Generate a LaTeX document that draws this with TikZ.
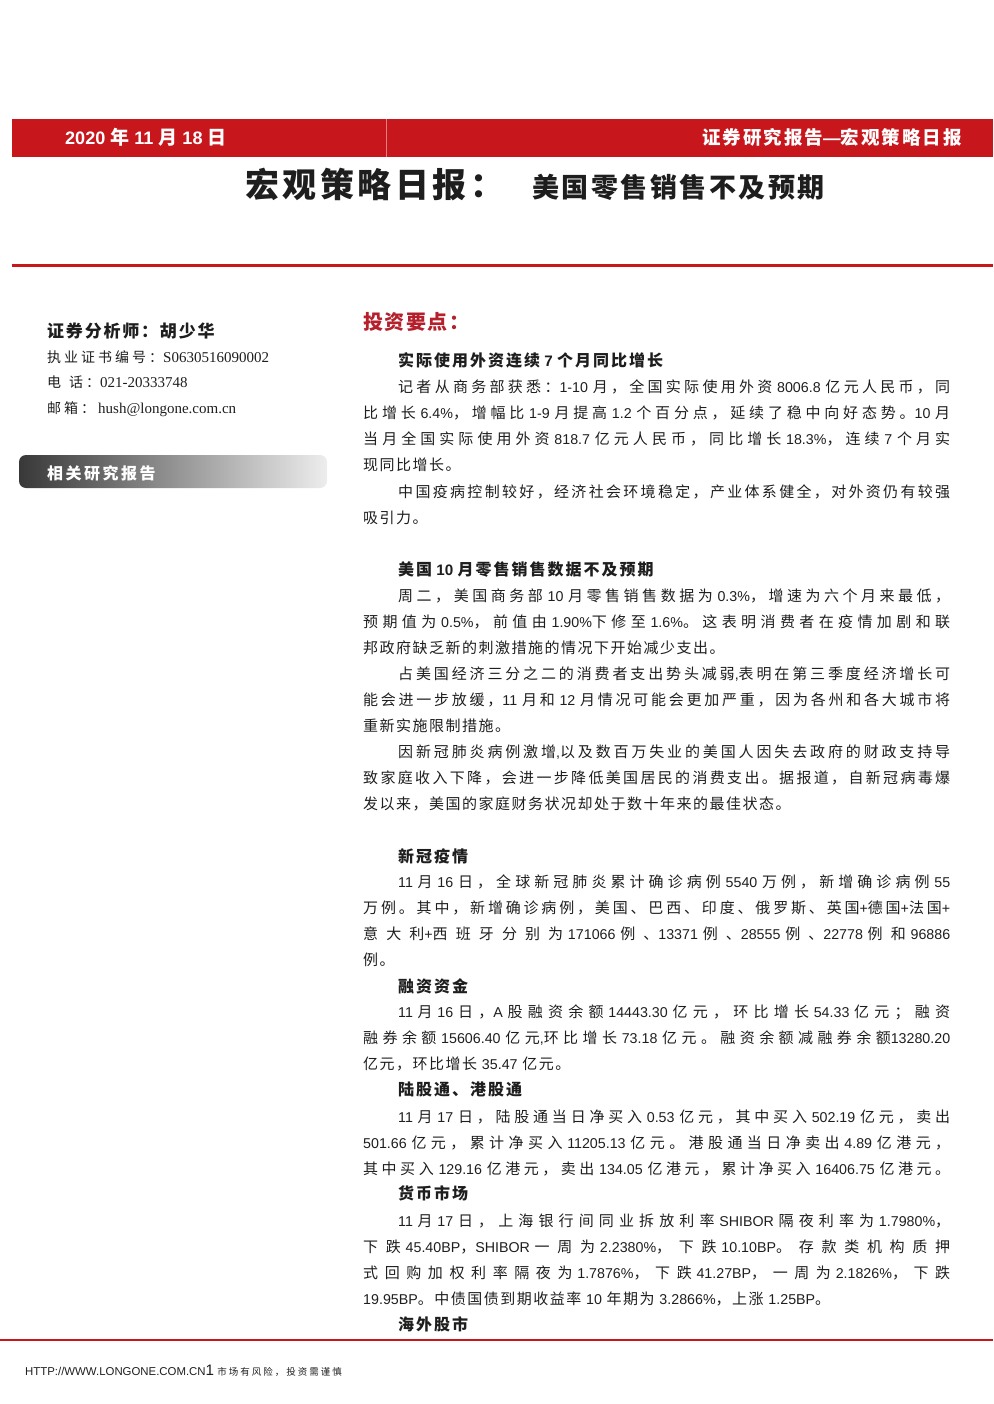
\documentclass[tikz,border=0pt]{standalone}
\usepackage{fontspec}
\setmainfont{Liberation Sans}[Scale=0.95]
\newfontfamily\cjk{Noto Sans CJK SC}
\newfontfamily\tms{Liberation Serif}
\usetikzlibrary{calc}

% Chinese characters switch to the CJK font by themselves
\newlength\cjkgap
\setlength\cjkgap{1.5pt plus 4pt minus 0.5pt}
\XeTeXinterchartokenstate=1
\newXeTeXintercharclass\cjkcls
\newcount\cjkc
\def\cjkrange#1#2{\cjkc=#1\relax
  \loop\XeTeXcharclass\cjkc=\cjkcls\relax
  \advance\cjkc by 1\relax\ifnum\cjkc<#2\relax\repeat}
\cjkrange{"4E00}{"A000}
\cjkrange{"3000}{"3040}
\cjkrange{"FF00}{"FFF0}
\XeTeXinterchartoks 0 \cjkcls = {\begingroup\cjk}
\XeTeXinterchartoks 4095 \cjkcls = {\begingroup\cjk}
\XeTeXinterchartoks \cjkcls 0 = {\endgroup}
\XeTeXinterchartoks \cjkcls 4095 = {\endgroup}
\XeTeXinterchartoks \cjkcls \cjkcls = {\nobreak\hskip\cjkgap\relax}

% justified paragraph, indent of two characters
\newcommand\ind{\rightskip=0pt\relax\leftskip=0pt\relax\parfillskip=0pt plus 1fil\relax\leavevmode\kern35pt\relax}

\definecolor{hdred}{HTML}{C8161D}
\definecolor{keyred}{HTML}{B4202C}
\definecolor{txt}{HTML}{1E1E1E}

\begin{document}
\tolerance=9999
\hbadness=10000
\begin{tikzpicture}[x=1pt,y=-1pt,
    para/.style={anchor=base west,inner sep=0pt,text width=587pt,text=txt,
      font=\fontsize{15}{26.2}\selectfont},
    head/.style={anchor=base west,inner sep=0pt,text=txt,
      font=\fontsize{16}{20}\selectfont\bfseries\setlength\cjkgap{2pt}},
    info/.style={anchor=base west,inner sep=0pt,text=txt,
      font=\fontsize{14}{18}\selectfont\setlength\cjkgap{3pt}}]

    \useasboundingbox (0,0) rectangle (993,1404);

    % header bar
    \fill [hdred] (12,119) rectangle (993,157);
    \draw [hdred!55!white,line width=0.8pt] (386,119) -- (386,157);
    \node (date) at (65,145) [anchor=base west,inner sep=0pt,text=white,
        font=\fontsize{19}{22}\selectfont\bfseries] {2020 年 11 月 18 日};
    \node (series) at (962,145) [anchor=base east,inner sep=0pt,text=white,
        font=\fontsize{18.5}{22}\selectfont\bfseries\setlength\cjkgap{2pt}] {证券研究报告—宏观策略日报};

    % title
    \node (title) at (245,198) [anchor=base west,inner sep=0pt,text=txt,
        font=\fontsize{34}{40}\selectfont\bfseries\setlength\cjkgap{3.5pt}] {宏观策略日报：};
    \node (subtitle) at (532,198) [anchor=base west,inner sep=0pt,text=txt,
        font=\fontsize{27}{32}\selectfont\bfseries\setlength\cjkgap{2.5pt}] {美国零售销售不及预期};
    \draw [hdred,line width=3pt] (12,266) -- (993,266);

    % analyst
    \node (analyst) at (47,337) [anchor=base west,inner sep=0pt,text=txt,
        font=\fontsize{17}{20}\selectfont\bfseries\setlength\cjkgap{1.8pt}] {证券分析师：胡少华};
    \node (cert) at (47,362) [info] {执业证书编号：{\tms\fontsize{15}{18}\selectfont S0630516090002}};
    \node (tel) at (47,387) [info] {电\hspace{8pt}话：{\tms\fontsize{15}{18}\selectfont 021-20333748}};
    \node (mail) at (47,413) [info] {邮箱：\hspace{3pt}{\tms\fontsize{15}{18}\selectfont hush@longone.com.cn}};

    \shade [left color=black!78,right color=black!7,rounded corners=7pt] (19,455) rectangle (327,488);
    \node (related) at (47,479) [anchor=base west,inner sep=0pt,text=white,
        font=\fontsize{16}{20}\selectfont\bfseries\setlength\cjkgap{2.5pt}] {相关研究报告};

    % key points
    \node (keypts) at (363,329) [anchor=base west,inner sep=0pt,text=keyred,
        font=\fontsize{20}{24}\selectfont\bfseries\setlength\cjkgap{1.5pt}] {投资要点：};

    \node (h1) at (398,366) [head] {实际使用外资连续 7 个月同比增长};
    \node (p1) at (363,392) [para] {\ind 记者从商务部获悉：1-10 月，全国实际使用外资 8006.8 亿元人民币，同\linebreak
        比增长 6.4\%，增幅比 1-9 月提高 1.2 个百分点，延续了稳中向好态势。10 月\linebreak
        当月全国实际使用外资 818.7 亿元人民币，同比增长 18.3\%，连续 7 个月实\linebreak
        现同比增长。\par};
    \node (p2) at (363,497) [para] {\ind 中国疫病控制较好，经济社会环境稳定，产业体系健全，对外资仍有较强\linebreak
        吸引力。\par};

    \node (h2) at (398,575) [head] {美国 10 月零售销售数据不及预期};
    \node (p3) at (363,601) [para] {\ind 周二，美国商务部 10 月零售销售数据为 0.3\%，增速为六个月来最低，\linebreak
        预期值为 0.5\%，前值由 1.90\%下修至 1.6\%。这表明消费者在疫情加剧和联\linebreak
        邦政府缺乏新的刺激措施的情况下开始减少支出。\par};
    \node (p4) at (363,679) [para] {\ind 占美国经济三分之二的消费者支出势头减弱,表明在第三季度经济增长可\linebreak
        能会进一步放缓，11 月和 12 月情况可能会更加严重，因为各州和各大城市将\linebreak
        重新实施限制措施。\par};
    \node (p5) at (363,757) [para] {\ind 因新冠肺炎病例激增,以及数百万失业的美国人因失去政府的财政支持导\linebreak
        致家庭收入下降，会进一步降低美国居民的消费支出。据报道，自新冠病毒爆\linebreak
        发以来，美国的家庭财务状况却处于数十年来的最佳状态。\par};

    \node (h3) at (398,862) [head] {新冠疫情};
    \node (p6) at (363,887) [para] {\ind 11 月 16 日，全球新冠肺炎累计确诊病例 5540 万例，新增确诊病例 55\linebreak
        万例。其中，新增确诊病例，美国、巴西、印度、俄罗斯、英国+德国+法国+\linebreak
        意大利+西班牙分别为 171066 例、13371 例、28555 例、22778 例和 96886\linebreak
        例。\par};

    \node (h4) at (398,992) [head] {融资资金};
    \node (p7) at (363,1017) [para] {\ind 11 月 16 日，A 股融资余额 14443.30 亿元，环比增长 54.33 亿元；融资\linebreak
        融券余额 15606.40 亿元,环比增长 73.18 亿元。融资余额减融券余额13280.20\linebreak
        亿元，环比增长 35.47 亿元。\par};

    \node (h5) at (398,1095) [head] {陆股通、港股通};
    \node (p8) at (363,1122) [para] {\ind 11 月 17 日，陆股通当日净买入 0.53 亿元，其中买入 502.19 亿元，卖出\linebreak
        501.66 亿元，累计净买入 11205.13 亿元。港股通当日净卖出 4.89 亿港元，\linebreak
        其中买入 129.16 亿港元，卖出 134.05 亿港元，累计净买入 16406.75 亿港元。\linebreak\par};

    \node (h6) at (398,1199) [head] {货币市场};
    \node (p9) at (363,1226) [para] {\ind 11 月 17 日，上海银行间同业拆放利率 SHIBOR 隔夜利率为 1.7980\%，\linebreak
        下跌 45.40BP，SHIBOR 一周为 2.2380\%，下跌 10.10BP。存款类机构质押\linebreak
        式回购加权利率隔夜为 1.7876\%，下跌 41.27BP，一周为 2.1826\%，下跌\linebreak
        19.95BP。中债国债到期收益率 10 年期为 3.2866\%，上涨 1.25BP。\par};

    \node (h7) at (398,1330) [head] {海外股市};

    % footer
    \draw [hdred,line width=1.5pt] (0,1340) -- (993,1340);
    \node (url) at (25,1375) [anchor=base west,inner sep=0pt,text=txt,
        font=\fontsize{12}{14}\selectfont] {HTTP://WWW.LONGONE.COM.CN{\fontsize{16}{18}\selectfont 1} {\fontsize{9.5}{12}\selectfont\setlength\cjkgap{2pt}市场有风险，投资需谨慎}};

\end{tikzpicture}
\end{document}
